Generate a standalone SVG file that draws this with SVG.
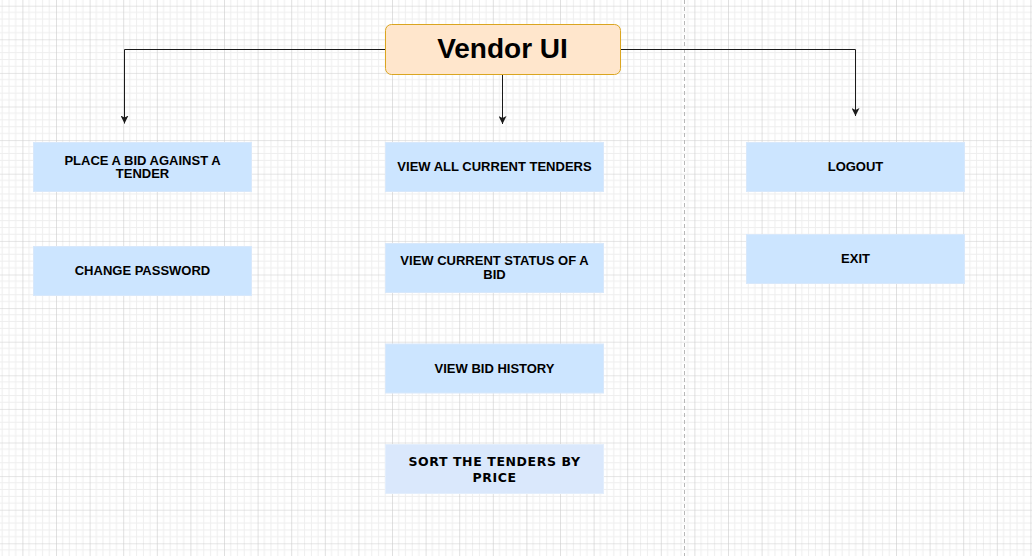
<svg xmlns="http://www.w3.org/2000/svg" width="1032" height="556" viewBox="0 0 1032 556">
<style>
.box{fill:#cce5ff;stroke:#d8e8fb;stroke-width:1}
.box2{fill:#dae8fc;stroke:#e3eefc;stroke-width:1}
.lbl{font-family:"Liberation Sans",Arial,sans-serif;font-weight:bold;font-size:13px;fill:#000;text-anchor:middle}
.lbl2{font-family:"DejaVu Sans",Verdana,sans-serif;font-weight:bold;font-size:12.5px;letter-spacing:0.6px;fill:#000;text-anchor:middle}
.conn{fill:none;stroke:#1a1a1a;stroke-width:1}
</style>
<defs>
<pattern id="grid" x="22.4" y="5.7" width="33.6" height="33.6" patternUnits="userSpaceOnUse">
<path d="M6.72 0V33.6M13.44 0V33.6M20.16 0V33.6M26.88 0V33.6M0 6.72H33.6M0 13.44H33.6M0 20.16H33.6M0 26.88H33.6" stroke="#eeeeee" stroke-width="1" fill="none"/>
<path d="M0 0V33.6M0 0H33.6" stroke="#cccccc" stroke-width="1.2" fill="none"/>
</pattern>
<marker id="arr" viewBox="0 0 10 10" refX="10" refY="5" markerWidth="8" markerHeight="8" markerUnits="userSpaceOnUse" orient="auto">
<path d="M0 0L10 5L0 10L2.5 5Z" fill="#1a1a1a"/>
</marker>
</defs>
<rect width="1032" height="556" fill="#fff"/>
<rect width="1032" height="556" fill="url(#grid)"/>
<line x1="684.5" y1="0" x2="684.5" y2="556" stroke="#b8b8b8" stroke-width="1" stroke-dasharray="4 3"/>
<g id="connectors">
<path class="conn" d="M385 49.5H124.5V123.5" marker-end="url(#arr)"/>
<path class="conn" d="M502.5 74.5V124" marker-end="url(#arr)"/>
<path class="conn" d="M620 49.5H855.5V116" marker-end="url(#arr)"/>
</g>
<g id="vendor-ui">
<rect x="385.5" y="24.5" width="235" height="50" rx="6" ry="6" fill="#ffe6cc" stroke="#daa520" stroke-width="1"/>
<text x="502.5" y="58" font-family="Liberation Sans,Arial,sans-serif" font-weight="bold" font-size="28" text-anchor="middle" fill="#000">Vendor UI</text>
</g>
<g id="place-bid">
<rect class="box" x="33.5" y="142.5" width="218" height="49"/>
<text class="lbl" x="142.5" y="164.5">PLACE A BID AGAINST A</text>
<text class="lbl" x="142.5" y="177.8">TENDER</text>
</g>
<g id="change-password">
<rect class="box" x="33.5" y="246.5" width="218" height="49"/>
<text class="lbl" x="142.5" y="275">CHANGE PASSWORD</text>
</g>
<g id="view-all">
<rect class="box" x="385.5" y="142.5" width="218" height="49"/>
<text class="lbl" x="494.5" y="170.8">VIEW ALL CURRENT TENDERS</text>
</g>
<g id="view-status">
<rect class="box" x="385.5" y="243.5" width="218" height="49"/>
<text class="lbl" x="494.5" y="265">VIEW CURRENT STATUS OF A</text>
<text class="lbl" x="494.5" y="279">BID</text>
</g>
<g id="view-history">
<rect class="box" x="385.5" y="344" width="218" height="49"/>
<text class="lbl" x="494.5" y="373.3">VIEW BID HISTORY</text>
</g>
<g id="sort-tenders">
<rect class="box2" x="385.5" y="444.5" width="218" height="49"/>
<text class="lbl2" x="494.5" y="466">SORT THE TENDERS BY</text>
<text class="lbl2" x="494.5" y="482">PRICE</text>
</g>
<g id="logout">
<rect class="box" x="746.5" y="142.5" width="218" height="49"/>
<text class="lbl" x="855.5" y="171">LOGOUT</text>
</g>
<g id="exit">
<rect class="box" x="746.5" y="234.5" width="218" height="49"/>
<text class="lbl" x="855.5" y="263.3">EXIT</text>
</g>
</svg>
